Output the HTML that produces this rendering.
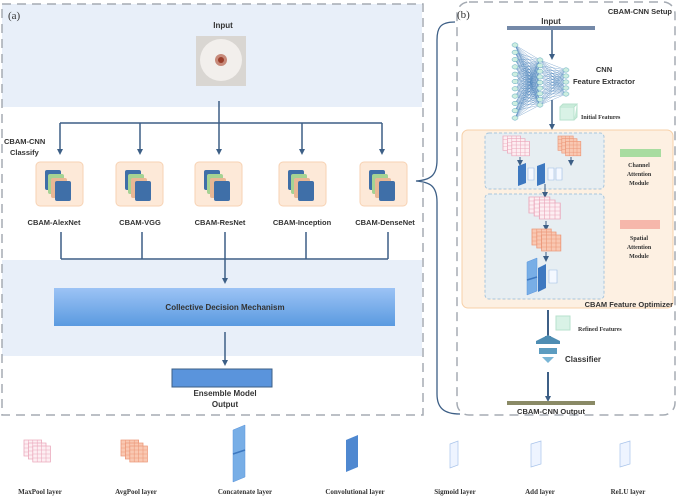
<!DOCTYPE html>
<html><head><meta charset="utf-8"><style>
html,body{margin:0;padding:0;background:#fff;width:676px;height:496px;overflow:hidden}
svg{display:block}
.s{font-family:"Liberation Sans",sans-serif;font-weight:bold;fill:#333}
.r{font-family:"Liberation Serif",serif;font-weight:bold;fill:#333}
</style></head><body>
<svg id="sv" width="676" height="496" viewBox="0 0 676 496" xmlns="http://www.w3.org/2000/svg">
<defs>
<marker id="ar" markerWidth="6" markerHeight="6" refX="3" refY="3" orient="auto" markerUnits="userSpaceOnUse"><path d="M0,0 L6,3 L0,6 z" fill="#3d5f86"/></marker>
<linearGradient id="cd" x1="0" y1="0" x2="0" y2="1"><stop offset="0" stop-color="#9cc3f5"/><stop offset="1" stop-color="#5a9ae0"/></linearGradient>
<g id="mpg"><rect x="0" y="0" width="16" height="16" fill="#fdeef2" stroke="#eaa6ba" stroke-width="0.7"/><path d="M4 0V16M8 0V16M12 0V16M0 4H16M0 8H16M0 12H16" stroke="#eaa6ba" stroke-width="0.5"/></g>
<g id="mp"><use href="#mpg" x="0" y="0"/><use href="#mpg" x="4" y="3"/><use href="#mpg" x="8" y="6"/></g>
<g id="apg"><rect x="0" y="0" width="16" height="16" fill="#f9c8b2" stroke="#ec9677" stroke-width="0.7"/><path d="M4 0V16M8 0V16M12 0V16M0 4H16M0 8H16M0 12H16" stroke="#ec9677" stroke-width="0.5"/></g>
<g id="ap"><use href="#apg" x="0" y="0"/><use href="#apg" x="4" y="3"/><use href="#apg" x="8" y="6"/></g>
<g id="stk"><rect x="0" y="0" width="16" height="20" rx="2" fill="#3f6fa8"/><rect x="3" y="4" width="16" height="20" rx="2" fill="#a5d393"/><rect x="6" y="8" width="16" height="20" rx="2" fill="#e8b795"/><rect x="10" y="11" width="16" height="20" rx="2" fill="#3f6fa8"/></g>
</defs>
<!-- left panel -->
<rect x="2" y="4" width="420" height="103" fill="#e8eff9"/>
<rect x="2" y="260" width="420" height="96" fill="#e8eff9"/>
<rect x="2" y="4" width="421" height="411" fill="none" stroke="#a5abb3" stroke-width="1.5" stroke-dasharray="9,6"/>
<text x="8" y="19" font-family="Liberation Serif,serif" font-size="11" fill="#333">(a)</text>
<text x="223" y="28" class="s" font-size="8" text-anchor="middle">Input</text>
<rect x="196" y="36" width="50" height="50" fill="#d9d6d2"/>
<circle cx="221" cy="60" r="21" fill="#f2efec"/>
<circle cx="221" cy="60" r="6" fill="#c78a7a"/>
<circle cx="221" cy="60" r="3" fill="#9a3d2a"/>
<path d="M219 101V123M60 123H382" stroke="#3d5f86" stroke-width="1.5" fill="none"/>
<g stroke="#3d5f86" stroke-width="1.5" marker-end="url(#ar)">
<line x1="60" y1="123" x2="60" y2="152"/><line x1="140" y1="123" x2="140" y2="152"/><line x1="219" y1="123" x2="219" y2="152"/><line x1="302" y1="123" x2="302" y2="152"/><line x1="382" y1="123" x2="382" y2="152"/></g>
<text x="4" y="144" class="s" font-size="7.5">CBAM-CNN</text>
<text x="10" y="155" class="s" font-size="7.5">Classify</text>
<g>
<rect x="36" y="162" width="47" height="44" rx="4" fill="#fde9d8" stroke="#f7d2b3"/><use href="#stk" x="45" y="170"/>
<rect x="116" y="162" width="47" height="44" rx="4" fill="#fde9d8" stroke="#f7d2b3"/><use href="#stk" x="125" y="170"/>
<rect x="195" y="162" width="47" height="44" rx="4" fill="#fde9d8" stroke="#f7d2b3"/><use href="#stk" x="204" y="170"/>
<rect x="279" y="162" width="47" height="44" rx="4" fill="#fde9d8" stroke="#f7d2b3"/><use href="#stk" x="288" y="170"/>
<rect x="360" y="162" width="47" height="44" rx="4" fill="#fde9d8" stroke="#f7d2b3"/><use href="#stk" x="369" y="170"/>
</g>
<g class="s" font-size="7.5" text-anchor="middle">
<text x="54" y="225">CBAM-AlexNet</text><text x="140" y="225">CBAM-VGG</text><text x="220" y="225">CBAM-ResNet</text><text x="302" y="225">CBAM-Inception</text><text x="385" y="225">CBAM-DenseNet</text></g>
<path d="M61 232V259M142 232V259M225 232V259M306 232V259M388 232V259M61 259H388" stroke="#3d5f86" stroke-width="1.5" fill="none"/>
<line x1="225" y1="259" x2="225" y2="281" stroke="#3d5f86" stroke-width="1.5" marker-end="url(#ar)"/>
<rect x="54" y="288" width="341" height="38" fill="url(#cd)"/>
<text x="225" y="310" class="s" font-size="8" text-anchor="middle">Collective Decision Mechanism</text>
<line x1="225" y1="332" x2="225" y2="363" stroke="#3d5f86" stroke-width="1.5" marker-end="url(#ar)"/>
<rect x="172" y="369" width="100" height="18" fill="#5a94dc" stroke="#3d5f86"/>
<text x="225" y="396" class="s" font-size="8" text-anchor="middle">Ensemble Model</text>
<text x="225" y="407" class="s" font-size="8" text-anchor="middle">Output</text>
<!-- brace -->
<path d="M455 22 C440 22 437 28 437 40 L437 160 C437 176 430 180 416 181 C430 182 437 186 437 202 L437 394 C437 408 444 414 460 414" fill="none" stroke="#3d5f86" stroke-width="1.3"/>
<!-- right panel -->
<rect x="457" y="2" width="218" height="413" rx="12" fill="none" stroke="#a5abb3" stroke-width="1.5" stroke-dasharray="9,6"/>
<text x="457" y="18" font-family="Liberation Serif,serif" font-size="11" fill="#333">(b)</text>
<text x="672" y="14" class="s" font-size="7.5" text-anchor="end">CBAM-CNN Setup</text>
<text x="551" y="24" class="s" font-size="8" text-anchor="middle">Input</text>
<rect x="507" y="26" width="88" height="4" fill="#7489a8"/>
<g id="nn" stroke="#3d78b5" stroke-width="0.3"></g>
<line x1="552" y1="30" x2="552" y2="57" stroke="#3d5f86" stroke-width="1.5" marker-end="url(#ar)"/>
<line x1="552" y1="100" x2="552" y2="127" stroke="#3d5f86" stroke-width="1.5" marker-end="url(#ar)"/>
<text x="604" y="72" class="s" font-size="7.5" text-anchor="middle">CNN</text>
<text x="604" y="84" class="s" font-size="7.5" text-anchor="middle">Feature Extractor</text>
<rect x="560" y="107" width="14" height="13" fill="#d9f2e6" stroke="#b7e2cd"/><path d="M560 107l3-3h14l-3 3M574 120l3-3v-13" fill="#c8ebd9" stroke="#b7e2cd"/>
<text x="581" y="119" class="r" font-size="6">Initial Features</text>
<rect x="462" y="130" width="211" height="178" rx="6" fill="#fdf0e2" stroke="#f7d0a8"/>
<rect x="485" y="133" width="119" height="56" rx="4" fill="#e7eef2" stroke="#a9c6dc" stroke-dasharray="3,2"/>
<rect x="485" y="194" width="119" height="105" rx="4" fill="#e7eef2" stroke="#a9c6dc" stroke-dasharray="3,2"/>
<use href="#mp" transform="translate(503,136) scale(1.1,0.9)"/>
<use href="#ap" transform="translate(558,136) scale(0.95,0.9)"/>
<g stroke="#3d5f86" stroke-width="1" marker-end="url(#ar)"><line x1="520" y1="157" x2="520" y2="163"/><line x1="571" y1="157" x2="571" y2="163"/><line x1="545" y1="184" x2="545" y2="195"/><line x1="546" y1="221" x2="546" y2="228"/><line x1="546" y1="252" x2="546" y2="259"/></g>
<path d="M518 166l8-3v20l-8 3z" fill="#3d78c0"/>
<path d="M528 168h6v12h-6z" fill="#f4f8ff" stroke="#9cbbe5" stroke-width="0.6"/>
<path d="M537 166l8-3v20l-8 3z" fill="#3d78c0"/>
<path d="M548 168h6v12h-6zM556 168h6v12h-6z" fill="#f4f8ff" stroke="#9cbbe5" stroke-width="0.6"/>
<use href="#mp" transform="translate(529,197) scale(1.3,1.0)"/>
<use href="#ap" transform="translate(532,229) scale(1.2,1.0)"/>
<path d="M527 262l10-4v33l-10 4z" fill="#78aee6" stroke="#5a94dc" stroke-width="0.5"/><path d="M527 280l10-3" stroke="#3d78c0" stroke-width="1.5"/>
<path d="M538 268l8-4v24l-8 4z" fill="#3d78c0"/>
<path d="M549 270h8v13h-8z" fill="#f4f8ff" stroke="#9cbbe5" stroke-width="0.6"/>
<rect x="620" y="149" width="41" height="8" fill="#a8dca0"/>
<g class="r" font-size="6" text-anchor="middle"><text x="639" y="167">Channel</text><text x="639" y="176">Attention</text><text x="639" y="185">Module</text>
<text x="639" y="240">Spatial</text><text x="639" y="249">Attention</text><text x="639" y="258">Module</text></g>
<rect x="620" y="220" width="40" height="9" fill="#f6b7ab"/>
<text x="673" y="307" class="s" font-size="7.5" text-anchor="end">CBAM Feature Optimizer</text>
<line x1="548" y1="310" x2="548" y2="339" stroke="#3d5f86" stroke-width="2" marker-end="url(#ar)"/>
<rect x="556" y="316" width="14" height="14" fill="#d9f2e6" stroke="#b7e2cd"/>
<text x="578" y="331" class="r" font-size="6">Refined Features</text>
<path d="M536 341l12-6 12 6zM536 341h24v3h-24z" fill="#4e8db3"/>
<rect x="539" y="348" width="18" height="6" fill="#5c9cc0"/>
<path d="M542 357h12l-6 6z" fill="#7ab6d6"/>
<text x="565" y="362" class="s" font-size="8">Classifier</text>
<line x1="548" y1="372" x2="548" y2="399" stroke="#3d5f86" stroke-width="2" marker-end="url(#ar)"/>
<rect x="507" y="401" width="88" height="4" fill="#8a8a66"/>
<text x="551" y="414" class="s" font-size="7.5" text-anchor="middle">CBAM-CNN Output</text>
<!-- legend -->
<use href="#mp" transform="translate(24,440) scale(1.1,1.0)"/>
<use href="#ap" transform="translate(121,440) scale(1.1,1.0)"/>
<path d="M233 430l12-5v52l-12 5z" fill="#78aee6" stroke="#5a94dc" stroke-width="0.5"/><path d="M233 454l12-4" stroke="#3d78c0" stroke-width="1.5"/>
<path d="M346 440l12-5v32l-12 5z" fill="#4f88d0"/>
<path d="M450 444l8-3v24l-8 3z" fill="#eef4ff" stroke="#a9c4ea" stroke-width="0.7"/>
<path d="M531 444l10-3v23l-10 3z" fill="#eef4ff" stroke="#a9c4ea" stroke-width="0.7"/>
<path d="M620 444l10-3v23l-10 3z" fill="#eef4ff" stroke="#a9c4ea" stroke-width="0.7"/>
<g class="r" font-size="7" text-anchor="middle">
<text x="40" y="494">MaxPool layer</text><text x="136" y="494">AvgPool layer</text><text x="245" y="494">Concatenate layer</text><text x="355" y="494">Convolutional layer</text><text x="455" y="494">Sigmoid layer</text><text x="540" y="494">Add layer</text><text x="628" y="494">ReLU layer</text></g>
</svg>
<script>
(function(){var g=document.getElementById('nn'),ns='http://www.w3.org/2000/svg',L=[],i,j;
function col(x,n,y0,y1){var a=[];for(var k=0;k<n;k++)a.push([x,y0+(y1-y0)*k/(n-1)]);return a;}
var A=col(515,11,45,118),B=col(540,9,60,105),C=col(566,5,70,94);
function link(P,Q){for(i=0;i<P.length;i++)for(j=0;j<Q.length;j++){var l=document.createElementNS(ns,'line');l.setAttribute('x1',P[i][0]);l.setAttribute('y1',P[i][1]);l.setAttribute('x2',Q[j][0]);l.setAttribute('y2',Q[j][1]);g.appendChild(l);}}
link(A,B);link(B,C);
[A,B,C].forEach(function(P){P.forEach(function(p){var e=document.createElementNS(ns,'ellipse');e.setAttribute('cx',p[0]);e.setAttribute('cy',p[1]);e.setAttribute('rx',3);e.setAttribute('ry',2.2);e.setAttribute('fill','#cdeee0');e.setAttribute('stroke','#5fa7c0');e.setAttribute('stroke-width','0.5');g.appendChild(e);});});
})();
</script>
</body></html>
